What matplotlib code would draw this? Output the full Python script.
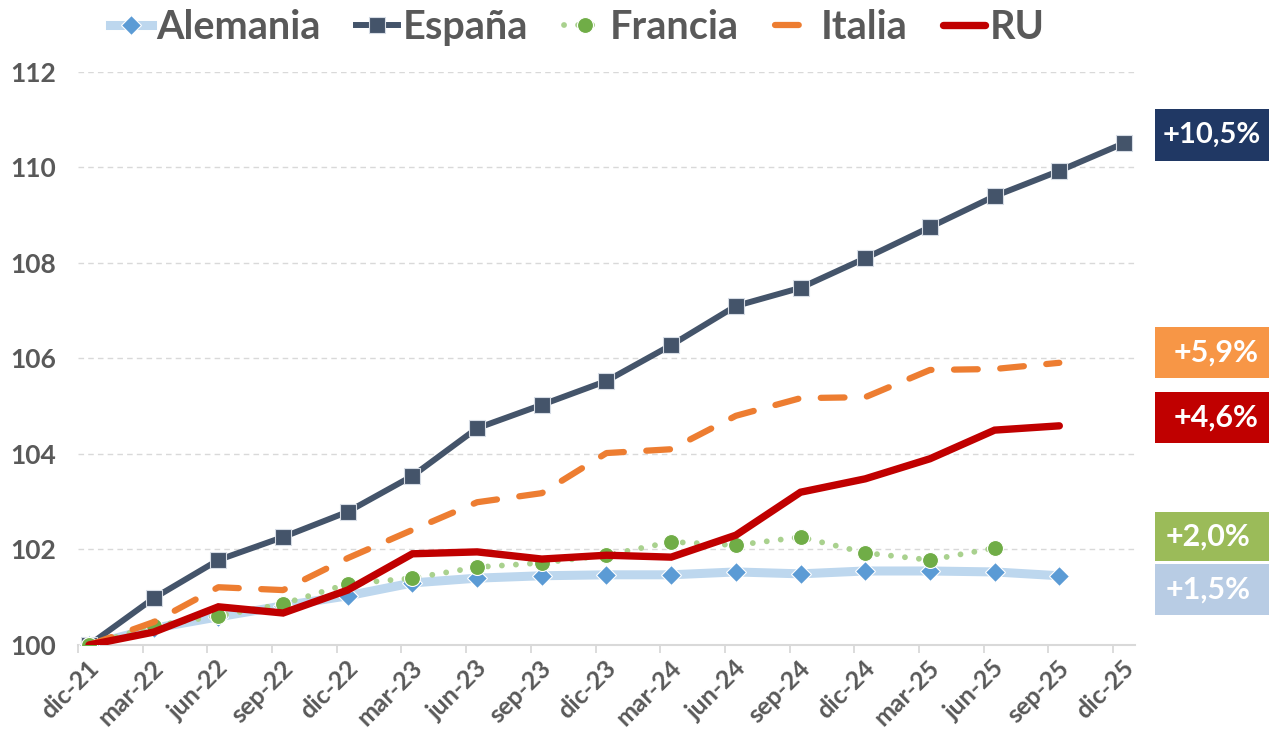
import matplotlib
matplotlib.use('Agg')
import matplotlib.pyplot as plt
import numpy as np
from matplotlib.patches import Rectangle
from matplotlib.transforms import ScaledTranslation

plt.rcParams['font.family'] = ['Lato', 'DejaVu Sans']
plt.rcParams['font.weight'] = 'bold'

fechas = ['dic-21', 'mar-22', 'jun-22', 'sep-22', 'dic-22', 'mar-23', 'jun-23', 'sep-23',
          'dic-23', 'mar-24', 'jun-24', 'sep-24', 'dic-24', 'mar-25', 'jun-25', 'sep-25', 'dic-25']

alemania = [100.0, 100.35, 100.59, 100.82, 101.03, 101.30, 101.40, 101.45, 101.47, 101.47,
            101.53, 101.49, 101.55, 101.55, 101.53, 101.45]
espana = [100.0, 100.98, 101.78, 102.26, 102.79, 103.54, 104.54, 105.03, 105.53, 106.28,
          107.10, 107.48, 108.10, 108.75, 109.40, 109.93, 110.51]
francia = [100.0, 100.40, 100.61, 100.86, 101.28, 101.40, 101.63, 101.72, 101.88, 102.16,
           102.09, 102.26, 101.93, 101.78, 102.03]
italia = [100.0, 100.48, 101.21, 101.15, 101.82, 102.41, 102.99, 103.18, 104.02, 104.10,
          104.80, 105.17, 105.19, 105.76, 105.78, 105.91]
ru = [100.0, 100.27, 100.80, 100.67, 101.15, 101.91, 101.95, 101.80, 101.88, 101.84,
      102.30, 103.20, 103.48, 103.90, 104.50, 104.59]

etiquetas = ['+10,5%', '+5,9%', '+4,6%', '+2,0%', '+1,5%']
colores_etiqueta = ['#203864', '#F79646', '#C00000', '#9BBB59', '#B8CCE4']

gris = '#595959'
linea_gris = '#D9D9D9'

fig = plt.figure(figsize=(12.69, 7.29), dpi=100)
ax = fig.add_axes([78 / 1269, 1 - 645 / 729, (1135 - 78) / 1269, (645 - 72) / 729])

def xs(serie):
    return np.arange(len(serie))

ax.plot(xs(alemania), alemania, color='#BDD7EE', lw=6.5, marker='D', ms=10.5,
        mfc='#5B9BD5', mec='white', mew=0.8, label='Alemania', zorder=3)
ax.plot(xs(espana), espana, color='#44546A', lw=4.3, marker='s', ms=11.5,
        mfc='#44546A', mec='#D6DCE5', mew=0.8, label='España', zorder=4)
ax.plot(xs(francia), francia, color='#A9D18E', lw=4.2, linestyle=(0, (0.01, 2.4)),
        dash_capstyle='round', marker='o', ms=11.5, mfc='#70AD47', mec='white', mew=0.8,
        label='Francia', zorder=5)
ax.plot(xs(italia), italia, color='#ED7D31', lw=4.5, linestyle=(0, (3.8, 3.6)),
        dash_capstyle='round', label='Italia', zorder=6)
ax.plot(xs(ru), ru, color='#C00000', lw=5.3, solid_capstyle='round',
        solid_joinstyle='miter', label='RU', zorder=7)

ax.set_xlim(-0.17, 16.17)
ax.set_ylim(100, 112)
ax.set_yticks(np.arange(100, 113, 2))
ax.set_xticks(np.arange(len(fechas)))
ax.set_xticklabels(fechas, rotation=45, ha='right', va='center', rotation_mode='anchor')
ax.set_xticks(np.arange(len(fechas)) - 0.17, minor=True)
ax.tick_params(axis='x', which='major', length=0, pad=14, labelsize=18, labelcolor=gris)
ax.tick_params(axis='x', which='minor', length=6, width=1.3, color=linea_gris)
ax.tick_params(axis='y', length=0, pad=16, labelsize=19, labelcolor=gris)
desplaza = ScaledTranslation(6 / 100, 0, fig.dpi_scale_trans)
for lab in ax.get_xticklabels():
    lab.set_transform(lab.get_transform() + desplaza)

ax.grid(axis='y', color=linea_gris, lw=1, linestyle=(0, (4, 3)))
for s in ['top', 'right', 'left']:
    ax.spines[s].set_visible(False)
ax.spines['bottom'].set_color(linea_gris)
ax.spines['bottom'].set_linewidth(1.5)
ax.set_axisbelow(True)

fig.legend(loc='center', bbox_to_anchor=(0.455, 0.962), ncol=5, frameon=False,
           fontsize=28.5, handlelength=1.05, handletextpad=0.12, columnspacing=0.9,
           labelcolor=gris)

# cajas con la variación final
cajas = [(109, 161, 1163, 21), (327, 378, 1174, 22), (392, 443, 1174, 22),
         (512, 561, 1166, 22), (564, 615, 1166, 22)]
for (top, bot, tx, fs), txt, col in zip(cajas, etiquetas, colores_etiqueta):
    fig.add_artist(Rectangle((1155 / 1269, 1 - bot / 729), 1 - 1155 / 1269, (bot - top) / 729,
                             transform=fig.transFigure, color=col, lw=0))
    fig.text(tx / 1269, 1 - (top + bot) / 2 / 729, txt, color='white', fontsize=fs,
             fontweight='bold', ha='left', va='center')

fig.savefig('out.png', dpi=100)
